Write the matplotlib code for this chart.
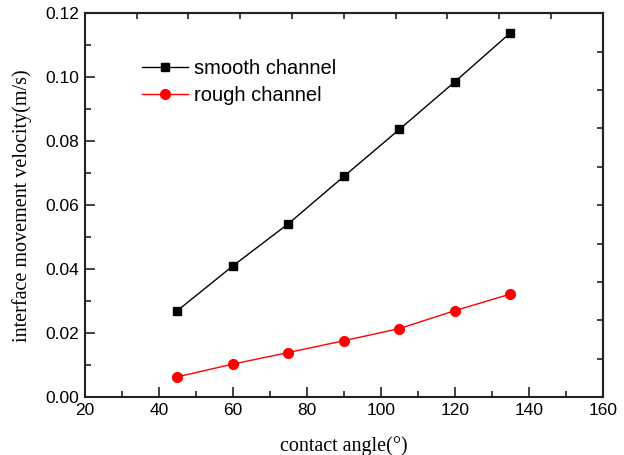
import matplotlib.pyplot as plt
import numpy as np

# contact angle (deg) and interface velocity (m/s)
angle = [45, 60, 75, 90, 105, 120, 135]
smooth = [0.0270, 0.0410, 0.0542, 0.0690, 0.0837, 0.0986, 0.1139]
rough = [0.0063, 0.0103, 0.0139, 0.0176, 0.0214, 0.0270, 0.0322]

x_ticks = [20, 40, 60, 80, 100, 120, 140, 160]
y_ticks = [0.00, 0.02, 0.04, 0.06, 0.08, 0.10, 0.12]

plt.rcParams['font.family'] = ['Liberation Sans', 'DejaVu Sans']

fig = plt.figure(figsize=(6.24, 4.55), dpi=100)
ax = fig.add_axes([0.136, 0.1275, 0.830, 0.843])

ax.plot(angle, smooth, color='black', lw=1.0, marker='s', markersize=6,
        label='smooth channel')
ax.plot(angle, rough, color='red', lw=1.0, marker='o', markersize=7,
        label='rough channel')

ax.set_xlim(20, 160)
ax.set_ylim(0, 0.12)
ax.set_xticks(x_ticks)
ax.set_yticks(y_ticks)
ax.set_yticklabels(["%.2f" % v for v in y_ticks])
ax.set_xticks(np.arange(30, 160, 20), minor=True)
ax.set_yticks(np.arange(0.01, 0.12, 0.02), minor=True)
ax.tick_params(which='major', direction='in', length=7, width=1.2, labelsize=12.5,
               colors='#222222', labelcolor='black', pad=4)
ax.tick_params(which='minor', direction='in', length=4, width=1.2, colors='#222222')

# top and right axes carry their own evenly spaced ticks, no labels
top = ax.secondary_xaxis('top')
top.set_xticks(np.linspace(20, 160, 11))
top.set_xticklabels([])
top.tick_params(direction='in', length=4, width=1.2, colors='#222222')
right = ax.secondary_yaxis('right')
right.set_yticks(np.linspace(0, 0.12, 11))
right.set_yticklabels([])
right.tick_params(direction='in', length=4, width=1.2, colors='#222222')

for s in ax.spines.values():
    s.set_linewidth(1.5)
    s.set_color('#222222')
for a in (top, right):
    for s in a.spines.values():
        s.set_linewidth(1.5)
        s.set_color('#222222')

ax.set_xlabel('contact angle(°)', family='Liberation Serif', fontsize=14.5, labelpad=13)
ax.set_ylabel('interface movement velocity(m/s)', family='Liberation Serif',
              fontsize=14.5, labelpad=10)

ax.legend(loc='upper left', bbox_to_anchor=(0.095, 0.902), frameon=False,
          fontsize=14.5, handlelength=2.3, handletextpad=0.3, labelspacing=0.38,
          borderaxespad=0)

plt.savefig('out.png', dpi=100)
